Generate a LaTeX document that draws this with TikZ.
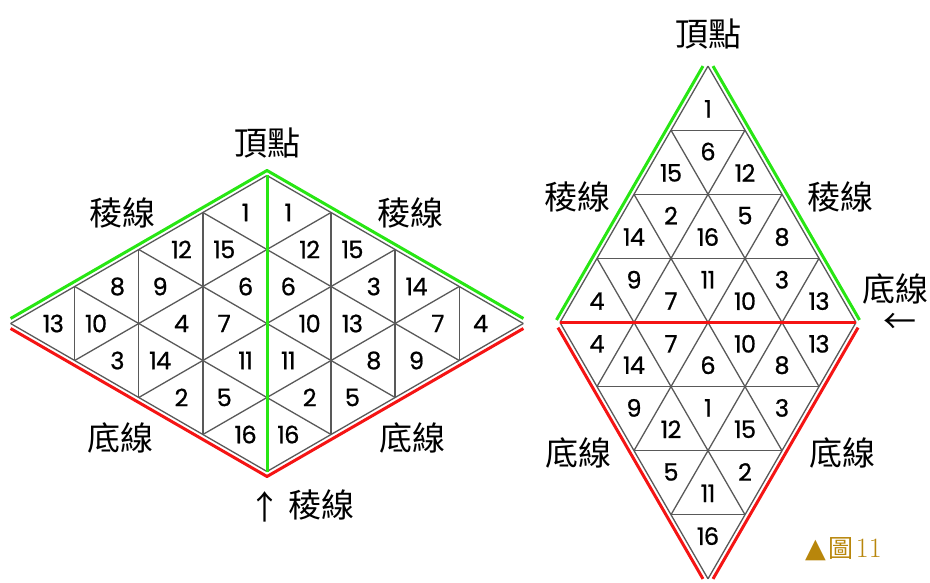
\documentclass[tikz,border=0pt]{standalone}
\usepackage{fontspec}
\usepackage{tikz}
\usetikzlibrary{calc}
\newfontfamily\cjk{Noto Sans CJK TC}
\newfontfamily\numfont{Poppins}[FakeBold=0.8,LetterSpace=-3]
\newfontfamily\symfont{DejaVu Sans}
\definecolor{ridgegreen}{RGB}{40,230,20}
\definecolor{basered}{RGB}{245,20,20}
\definecolor{figgold}{RGB}{184,134,11}

\begin{document}
\begin{tikzpicture}[x=1pt,y=-1pt,
        grid line/.style={draw=black!65,line width=1.3pt},
        ridge/.style={draw=ridgegreen,line width=3pt,line join=round},
        base/.style={draw=basered,line width=3pt,line join=round},
        num/.style={font=\numfont\fontsize{24}{24}\selectfont,inner sep=0pt},
        word/.style={font=\cjk\fontsize{33}{33}\selectfont,inner sep=0pt}]

    \useasboundingbox (0,0) rectangle (930,583);

    \coordinate (lL) at (10.6,323.5);
    \coordinate (lT) at (267,175.5);
    \coordinate (lR) at (523.4,323.5);
    \coordinate (lB) at (267,471.5);

    \begin{scope}[shift={(lL)},x={(64.09pt,37pt)},y={(64.09pt,-37pt)}]
        \foreach \k in {0,...,4} {
            \draw[grid line] (0,\k) -- (4,\k);
            \draw[grid line] (\k,0) -- (\k,4);
        }
        \foreach \k in {1,2,3} {
            \draw[grid line] (0,\k) -- (\k,0);
            \draw[grid line] (\k,4) -- (4,\k);
        }
        \foreach \i/\j/\n in {0/0/13, 1/0/8, 0/1/3, 2/0/12, 1/1/4, 0/2/2, 3/0/1, 2/1/6,
                1/2/11, 0/3/16, 3/1/12, 2/2/10, 1/3/2, 3/2/3, 2/3/8, 3/3/7}
            \node[num] (la-\i-\j) at (\i+1/3,\j+1/3) {\n};
        \foreach \i/\j/\n in {0/0/10, 1/0/9, 0/1/14, 2/0/15, 1/1/7, 0/2/5, 3/0/1, 2/1/6,
                1/2/11, 0/3/16, 3/1/15, 2/2/13, 1/3/5, 3/2/14, 2/3/9, 3/3/4}
            \node[num] (lb-\i-\j) at (\i+2/3,\j+2/3) {\n};
    \end{scope}

    \draw[ridge] ([yshift=5pt]lL) -- ([yshift=5pt]lT) -- ([yshift=5pt]lR);
    \draw[base] ([yshift=-5pt]lL) -- ([yshift=-5pt]lB) -- ([yshift=-5pt]lR);
    \draw[ridge] (lT) -- (lB);

    \coordinate (rT) at (708,66.1);
    \coordinate (rL) at (560,322.5);
    \coordinate (rR) at (856,322.5);
    \coordinate (rB) at (708,578.9);

    \begin{scope}[shift={(rT)},x={(-37pt,-64.09pt)},y={(37pt,-64.09pt)}]
        \foreach \k in {0,...,4} {
            \draw[grid line] (0,\k) -- (4,\k);
            \draw[grid line] (\k,0) -- (\k,4);
        }
        \foreach \k in {1,2,3} {
            \draw[grid line] (0,\k) -- (\k,0);
            \draw[grid line] (\k,4) -- (4,\k);
        }
        \foreach \i/\j/\n in {0/0/1, 1/0/15, 0/1/12, 2/0/14, 1/1/16, 0/2/8, 3/0/4, 2/1/7,
                1/2/10, 0/3/13, 3/1/14, 2/2/6, 1/3/8, 3/2/12, 2/3/15, 3/3/11}
            \node[num] (ra-\i-\j) at (\i+1/3,\j+1/3) {\n};
        \foreach \i/\j/\n in {0/0/6, 1/0/2, 0/1/5, 2/0/9, 1/1/11, 0/2/3, 3/0/4, 2/1/7,
                1/2/10, 0/3/13, 3/1/9, 2/2/1, 1/3/3, 3/2/5, 2/3/2, 3/3/16}
            \node[num] (rb-\i-\j) at (\i+2/3,\j+2/3) {\n};
    \end{scope}

    \draw[ridge] ([xshift=-5pt]rT) -- ([xshift=-5pt]$(rT)!0.99!(rL)$);
    \draw[ridge] ([xshift=5pt]rT) -- ([xshift=5pt]$(rT)!0.99!(rR)$);
    \draw[base] ([xshift=-5pt]$(rL)!0.02!(rB)$) -- ([xshift=-5pt]rB);
    \draw[base] ([xshift=5pt]$(rR)!0.02!(rB)$) -- ([xshift=5pt]rB);
    \draw[base] (rL) -- (rR);

    \node[word] (ltop) at (267,143) {頂點};
    \node[word] (lridge1) at (122,213) {稜線};
    \node[word] (lridge2) at (410,213) {稜線};
    \node[word] (lbase1) at (120,438) {底線};
    \node[word] (lbase2) at (412,438) {底線};
    \node[word] (lup) at (265,507) {↑};
    \node[word] (lridge3) at (321,505) {稜線};

    \node[word] (rtop) at (708,34) {頂點};
    \node[word] (rridge1) at (577,197) {稜線};
    \node[word] (rridge2) at (840,197) {稜線};
    \node[word] (rbase1) at (895,289) {底線};
    \node[word] (rleft) at (900,323) {←};
    \node[word] (rbase2) at (578,453) {底線};
    \node[word] (rbase3) at (842,453) {底線};

    \node[anchor=west,inner sep=0pt,text=figgold] (caption) at (805,549)
        {{\symfont\fontsize{27}{27}\selectfont ▲}\hspace{3pt}{\cjk\fontsize{25}{25}\selectfont 圖}\hspace{2pt}{\fontsize{28}{28}\selectfont 11}};

\end{tikzpicture}
\end{document}
